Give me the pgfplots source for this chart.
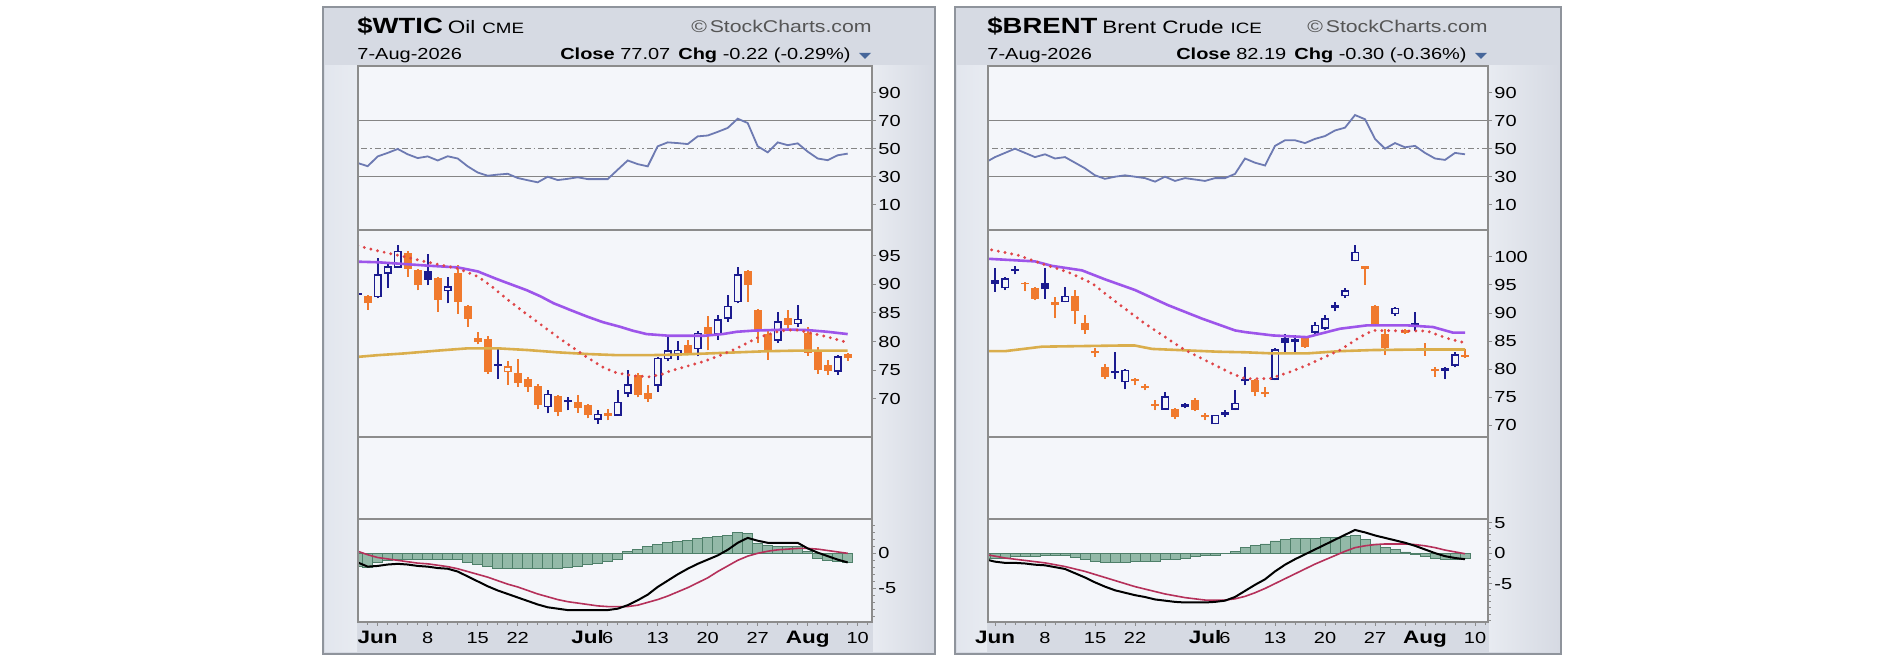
\documentclass[border=0pt]{standalone}
\usepackage{pgfplots}
\pgfplotsset{compat=1.18}
\usepackage{pgfplotstable}
\usepackage{fontspec}
\setmainfont{Liberation Sans}
\newfontfamily\lab[FakeStretch=1.25]{Liberation Sans}

\definecolor{panelbg}{HTML}{D6DAE3}
\definecolor{panelbd}{HTML}{8F949C}
\definecolor{stripA}{HTML}{E2E6EE}
\definecolor{stripB}{HTML}{E8EBF1}
\definecolor{chartbg}{HTML}{F4F6FA}
\definecolor{axisgr}{HTML}{8C8C8C}
\definecolor{refc}{HTML}{858585}
\definecolor{navyc}{HTML}{1B1B8F}
\definecolor{orangec}{HTML}{F07A2E}
\definecolor{purplec}{HTML}{9D55EA}
\definecolor{goldc}{HTML}{DAAE4C}
\definecolor{redc}{HTML}{DF4548}
\definecolor{rsic}{HTML}{6D7AB2}
\definecolor{histf}{HTML}{93B9A8}
\definecolor{histd}{HTML}{4E7F69}
\definecolor{sigc}{HTML}{B5305A}
\definecolor{tric}{HTML}{46669A}
\definecolor{wmc}{HTML}{555555}

\pgfplotsset{
  base/.style={
    scale only axis,
    axis background/.style={fill=chartbg},
    axis line style={draw=axisgr, line width=0.9pt},
    axis on top,
    tick align=outside,
    major tick length=2pt,
    minor tick length=1.4pt,
    every tick/.append style={draw=axisgr, line width=0.5pt},
    xtick=\empty,
    ytick pos=right,
    yticklabel pos=right,
    ticklabel style={font=\lab\fontsize{8}{9}\selectfont, text=black},
    yticklabel style={inner sep=1pt},
  },
  leftp/.style={base, width=257pt, xmin=-1.97, xmax=49.43},
  rightp/.style={base, width=250pt, xmin=-0.7, xmax=49.3},
  refl/.style={draw=refc, line width=0.7pt, forget plot},
  wick/.style={only marks, mark=*, mark size=0pt, mark options={draw=none, fill=none}, forget plot,
     error bars/.cd, y dir=plus, y explicit, error mark=none,
     error bar style={line width=1pt, draw=#1}},
  cbody/.style 2 args={only marks, mark=*, mark size=0pt, mark options={draw=none, fill=none}, forget plot,
     error bars/.cd, y dir=plus, y explicit, error mark=none,
     error bar style={line width=#2, draw=#1}},
  dotted red/.style={redc, line width=1.6pt, line cap=round, dash pattern=on 0pt off 3.4pt},
  macdx/.style={
    xtick={0,5,10,14,21,23,28,33,38,43,48},
    xticklabels={{\fontsize{9}{10}\selectfont\bfseries Jun},8,15,22,{\fontsize{9}{10}\selectfont\bfseries Jul},6,13,20,27,{\fontsize{9}{10}\selectfont\bfseries Aug},10},
    minor xtick={-1,0,...,49},
    xtick pos=bottom,
    xticklabel style={anchor=base, yshift=-9pt},
  },
}

% ---------------- WTIC candles (x = trading day, Jun 1 = 0) ----------------
\pgfplotstableread{
x o h l c
-2 88.5 88.7 88.0 88.2
5 92.4 95.3 89.9 90.8
12 76.0 79.1 73.4 75.7
19 69.7 70.3 67.9 69.3
}\wBF
\pgfplotstableread{
x o h l c
-1 88.0 88.2 85.6 86.7
3 95.5 95.8 91.4 92.8
4 92.5 92.7 89.0 89.9
6 91.1 91.4 85.2 87.3
8 92.0 93.4 84.9 87.0
9 86.2 86.4 82.6 84.0
10 80.6 81.7 79.5 79.9
11 80.4 81.0 74.3 74.7
14 74.4 77.0 72.1 72.7
15 73.4 73.8 71.2 72.0
16 72.2 72.5 68.1 68.9
18 70.4 70.6 66.9 67.7
20 69.4 70.6 67.5 68.3
21 68.9 69.1 66.5 67.1
23 67.4 68.1 66.2 67.0
26 74.1 74.5 70.2 70.6
27 70.9 72.4 69.4 69.9
31 79.4 80.3 77.6 77.9
33 82.6 84.4 78.5 81.3
37 92.3 92.6 87.0 89.9
38 85.5 85.7 79.7 82.0
39 81.4 82.0 76.8 78.5
41 84.1 85.5 82.0 82.9
43 81.5 82.5 77.5 78.0
44 78.5 79.0 74.3 75.0
45 75.8 76.8 74.2 74.8
47 77.8 78.0 76.6 77.07
}\wOF
\pgfplotstableread{
x o h l c
0 87.9 94.6 87.6 91.7
1 92.0 94.0 89.4 93.1
2 93.1 97.0 93.0 95.8
7 88.9 91.4 86.7 89.6
17 68.6 71.5 67.4 70.7
22 66.4 68.0 65.6 67.2
24 67.1 71.5 67.0 69.3
25 71.0 75.0 70.2 72.4
28 72.4 77.3 71.2 77.0
29 77.05 80.8 76.5 78.3
30 77.9 80.0 76.7 78.4
32 78.8 81.9 77.4 81.4
34 81.4 84.7 80.3 83.8
35 84.1 88.2 83.5 86.1
36 87.0 93.1 86.7 91.7
40 80.3 85.2 79.8 83.4
42 83.2 86.4 82.5 83.9
46 74.8 77.6 74.2 77.29
}\wBH
\pgfplotstableread{
x o h l c
13 74.7 76.6 72.4 75.5
}\wOH

% ---------------- BRENT candles ----------------
\pgfplotstableread{
x o h l c
0 95.8 98.0 93.8 95.2
2 97.9 98.4 96.9 97.5
5 95.4 98.0 92.5 94.2
12 79.7 83.0 78.3 79.3
19 73.7 73.9 73.0 73.2
23 72.3 72.7 71.5 71.9
25 78.3 80.4 77.1 77.8
29 85.5 86.3 83.1 84.7
30 85.4 86.0 82.8 84.8
34 91.4 91.9 90.3 90.9
42 88.3 90.1 86.8 87.8
45 80.2 80.3 78.2 79.7
}\bBF
\pgfplotstableread{
x o h l c
-1 91.3 91.5 90.8 91.0
3 95.4 95.5 93.9 95.1
4 94.4 94.6 92.3 92.5
6 92.0 92.9 89.1 91.4
8 93.0 94.1 88.1 90.3
9 88.3 89.7 86.3 86.9
10 83.2 83.7 82.2 82.8
11 80.4 81.0 78.2 78.6
14 78.3 78.4 77.1 77.8
15 77.0 77.4 76.2 76.6
16 73.7 74.5 72.7 73.4
18 72.9 73.1 71.1 71.5
20 74.5 74.8 72.5 72.7
21 71.9 72.2 70.9 71.4
26 78.0 78.3 75.2 75.9
27 76.0 76.8 75.0 75.6
31 85.5 85.7 83.8 84.0
37 98.3 98.4 95.0 97.9
38 91.2 91.4 87.8 88.1
39 86.3 87.2 82.5 83.8
41 86.9 87.2 86.3 86.5
43 83.8 84.6 82.4 83.3
44 80.0 80.4 78.6 79.6
47 82.6 83.5 82.0 82.19
}\bOF
\pgfplotstableread{
x o h l c
1 94.5 96.4 94.1 96.1
7 92.1 94.7 91.9 92.9
13 77.8 80.0 76.4 79.8
17 72.9 75.9 72.8 75.0
22 70.3 71.8 70.2 71.7
24 72.9 76.2 72.7 73.9
28 78.2 83.8 78.0 83.4
32 86.6 88.4 86.0 87.8
33 87.3 89.7 86.9 88.9
35 93.1 94.5 92.7 93.9
36 99.4 102.2 99.2 100.8
40 89.9 91.1 89.5 90.8
46 80.7 83.1 80.3 82.49
}\bBH

\begin{document}
\begin{tikzpicture}
\path[use as bounding box] (0,0) rectangle (943pt,331pt);
\fill[white] (0,0) rectangle (943pt,331pt);
\begin{scope}[x=0.5pt,y=-0.5pt,shift={(0pt,331pt)}]
  % panels
  \fill[panelbg] (323,7) rectangle (935,654);
  \fill[panelbg] (955,7) rectangle (1561,654);
  \shade[left color=stripA, right color=stripB] (325,66) rectangle (357,652);
  \shade[left color=stripB, right color=panelbg] (873,66) rectangle (933,652);
  \shade[left color=stripA, right color=stripB] (957,66) rectangle (987,652);
  \shade[left color=stripB, right color=panelbg] (1489,66) rectangle (1559,652);
  \draw[panelbd, line width=1pt] (323,7) rectangle (935,654);
  \draw[panelbd, line width=1pt] (955,7) rectangle (1561,654);
  % left header
  \node[anchor=base west, inner sep=0] at (357,34) {\lab\fontsize{11}{12}\selectfont\bfseries \$WTIC\hspace{2.5pt}{\mdseries\fontsize{9}{10}\selectfont Oil}\hspace{3.5pt}{\mdseries\fontsize{7.5}{9}\selectfont CME}};
  \node[anchor=base east, inner sep=0, text=wmc] at (872,33) {\lab\fontsize{8.5}{10}\selectfont\textcopyright\,StockCharts.com};
  \node[anchor=base west, inner sep=0] at (357,60) {\lab\fontsize{8}{9}\selectfont 7-Aug-2026};
  \node[anchor=base east, inner sep=0] at (851,60) {\lab\fontsize{8}{9}\selectfont\textbf{Close} 77.07\hspace{4pt}\textbf{Chg} -0.22 (-0.29\%)};
  \fill[tric] (859,53) -- (871,53) -- (865,59) -- cycle;
  % right header
  \node[anchor=base west, inner sep=0] at (987,34) {\lab\fontsize{11}{12}\selectfont\bfseries \$BRENT\hspace{2.5pt}{\mdseries\fontsize{9}{10}\selectfont Brent Crude}\hspace{3.5pt}{\mdseries\fontsize{7.5}{9}\selectfont ICE}};
  \node[anchor=base east, inner sep=0, text=wmc] at (1488,33) {\lab\fontsize{8.5}{10}\selectfont\textcopyright\,StockCharts.com};
  \node[anchor=base west, inner sep=0] at (987,60) {\lab\fontsize{8}{9}\selectfont 7-Aug-2026};
  \node[anchor=base east, inner sep=0] at (1467,60) {\lab\fontsize{8}{9}\selectfont\textbf{Close} 82.19\hspace{4pt}\textbf{Chg} -0.30 (-0.36\%)};
  \fill[tric] (1475,53) -- (1487,53) -- (1481,59) -- cycle;
\end{scope}

% ================= LEFT : WTIC =================
\begin{axis}[leftp, at={(179pt,216pt)}, anchor=south west, height=82pt,
  ymin=-8, ymax=109, ytick={10,30,50,70,90}, yticklabels={10,30,50,70,90}]
  \addplot[refl] coordinates {(-3,70) (51,70)};
  \addplot[refl] coordinates {(-3,30) (51,30)};
  \addplot[refl, dash pattern=on 3pt off 1.5pt on 0.8pt off 1.5pt] coordinates {(-3,50) (51,50)};
  \addplot[rsic, line width=0.9pt] coordinates {
    (-2,39.8) (-1,37.5) (0,44.5) (1,47) (2,49.8) (3,46) (4,43.3) (5,44.5) (6,41.6) (7,44.6)
    (8,43) (9,37.4) (10,33) (11,30.7) (12,31.5) (13,32.1) (14,29.1) (15,27.5) (16,26.0) (17,30)
    (18,27.6) (19,28.5) (20,29.6) (21,28.3) (22,28.3) (23,28.3) (24,35) (25,41.6) (26,39) (27,37.4)
    (28,51.7) (29,54.5) (30,54) (31,53.3) (32,58.8) (33,59.4) (34,62) (35,64.8) (36,71.4) (37,68.3)
    (38,51.7) (39,47.4) (40,54.5) (41,52.5) (42,53.8) (43,47.9) (44,43.0) (45,41.8) (46,45.3) (47,46.5)};
\end{axis}

\begin{axis}[leftp, at={(179pt,112.5pt)}, anchor=south west, height=103.5pt,
  ymin=63.25, ymax=99.56, ytick={70,75,80,85,90,95}, yticklabels={70,75,80,85,90,95}]
  % orange filled
  \addplot[wick=orangec] table[x=x, y=l, y error plus expr=\thisrow{h}-\thisrow{l}] {\wOF};
  \addplot[cbody={orangec}{4pt}] table[x=x, y=c, y error plus expr=\thisrow{o}-\thisrow{c}] {\wOF};
  % navy filled
  \addplot[wick=navyc] table[x=x, y=l, y error plus expr=\thisrow{h}-\thisrow{l}] {\wBF};
  \addplot[cbody={navyc}{4pt}] table[x=x, y=c, y error plus expr=\thisrow{o}-\thisrow{c}] {\wBF};
  % blue hollow
  \addplot[wick=navyc] table[x=x, y=l, y error plus expr=\thisrow{h}-\thisrow{l}] {\wBH};
  \addplot[cbody={navyc}{4pt}] table[x=x, y expr=\thisrow{o}-0.13, y error plus expr=\thisrow{c}-\thisrow{o}+0.26] {\wBH};
  \addplot[cbody={chartbg}{2.5pt}] table[x=x, y expr=\thisrow{o}+0.13, y error plus expr=\thisrow{c}-\thisrow{o}-0.26] {\wBH};
  % orange hollow
  \addplot[wick=orangec] table[x=x, y=l, y error plus expr=\thisrow{h}-\thisrow{l}] {\wOH};
  \addplot[cbody={orangec}{4pt}] table[x=x, y expr=\thisrow{o}-0.13, y error plus expr=\thisrow{c}-\thisrow{o}+0.26] {\wOH};
  \addplot[cbody={chartbg}{2.5pt}] table[x=x, y expr=\thisrow{o}+0.13, y error plus expr=\thisrow{c}-\thisrow{o}-0.26] {\wOH};
  % moving averages
  \addplot[goldc, line width=1.3pt] coordinates {
    (-2,77.3) (0,77.6) (2.6,77.9) (6,78.4) (9,78.8) (12,78.8) (15,78.5) (18,78.1) (21,77.8)
    (24,77.6) (27,77.6) (30,77.7) (33,77.9) (36,78.1) (39,78.3) (42,78.4) (45,78.4) (47,78.4)};
  \addplot[purplec, line width=1.3pt] coordinates {
    (-2,94.0) (0,93.9) (2.6,93.6) (5,93.3) (8,93.0) (10,92.3) (11.7,91.1) (12.6,90.5) (14.9,89.0)
    (16.3,87.9) (17.6,86.7) (19.3,85.5) (20.9,84.4) (22.5,83.4) (24.2,82.6) (25.5,81.9) (26.9,81.3)
    (29.2,81.0) (32.6,81.0) (34.5,81.3) (35.9,81.7) (37.5,81.9) (39.2,82.0) (41,82.1) (43,82.0)
    (45,81.7) (47,81.3)};
  \addplot[dotted red] coordinates {
    (-2,96.8) (0,95.9) (2.6,94.9) (5,93.9) (8,92.8) (10,91.4) (11.3,89.8) (12.6,87.9) (13.9,86.1)
    (15.2,84.4) (16.6,82.6) (17.9,80.9) (19.3,79.2) (20.6,77.6) (22.6,75.4) (23.9,74.5) (25.5,74.0)
    (27.2,73.8) (28.5,74.3) (29.2,74.8) (31,75.7) (32.6,76.5) (34.3,77.6) (35.9,78.8) (37.9,80.6)
    (39.9,81.7) (41,82.0) (42,82.0) (43,81.6) (44,81.2) (45,80.8) (46,80.3) (47,79.8)};
\end{axis}

\begin{axis}[leftp, at={(179pt,71.5pt)}, anchor=south west, height=41pt,
  ymin=0, ymax=1, ytick=\empty]
\end{axis}

\begin{axis}[leftp, macdx, at={(179pt,20pt)}, anchor=south west, height=51.5pt,
  ymin=-9.8, ymax=4.9, ytick={-5,0}, yticklabels={-5,0}, minor ytick={-9,-8,...,4}]
  \addplot[ybar, bar width=5pt, fill=histf, draw=histd, line width=0.4pt, forget plot] coordinates {
    (-2,-1.9) (-1,-2.0) (0,-1.3) (1,-1.0) (2,-0.8) (3,-0.8) (4,-0.8) (5,-0.8) (6,-0.8) (7,-0.8)
    (8,-0.9) (9,-1.3) (10,-1.6) (11,-1.9) (12,-2.1) (13,-2.2) (14,-2.2) (15,-2.2) (16,-2.2) (17,-2.2)
    (18,-2.1) (19,-2.0) (20,-1.9) (21,-1.6) (22,-1.4) (23,-1.2) (24,-0.9) (25,0.3) (26,0.5) (27,1.0)
    (28,1.3) (29,1.5) (30,1.7) (31,1.9) (32,2.1) (33,2.3) (34,2.4) (35,2.6) (36,3.0) (37,2.8)
    (38,1.4) (39,1.1) (40,1.0) (41,1.0) (42,1.0) (43,0.3) (44,-0.7) (45,-1.0) (46,-1.2) (47,-1.3)};
  \addplot[sigc, line width=0.8pt] coordinates {
    (-2,0.3) (-1,-0.2) (0,-0.6) (1,-0.8) (2,-1.0) (3,-1.2) (4,-1.4) (5,-1.5) (6,-1.7) (7,-1.9)
    (8,-2.2) (9,-2.6) (10,-3.0) (11,-3.4) (12,-3.9) (13,-4.4) (14,-4.8) (15,-5.3) (16,-5.8) (17,-6.2)
    (18,-6.6) (19,-6.9) (20,-7.1) (21,-7.3) (22,-7.5) (23,-7.6) (24,-7.6) (25,-7.6) (26,-7.4) (27,-7.0)
    (28,-6.6) (29,-6.1) (30,-5.5) (31,-4.9) (32,-4.2) (33,-3.5) (34,-2.6) (35,-1.8) (36,-1.0) (37,-0.4)
    (38,0.0) (39,0.3) (40,0.5) (41,0.6) (42,0.7) (43,0.7) (44,0.6) (45,0.4) (46,0.2) (47,0.0)};
  \addplot[black, line width=1pt] coordinates {
    (-2,-1.3) (-1,-1.9) (0,-1.8) (1,-1.6) (2,-1.5) (3,-1.6) (4,-1.8) (5,-1.9) (6,-2.1) (7,-2.2)
    (8,-2.6) (9,-3.3) (10,-4.0) (11,-4.7) (12,-5.3) (13,-5.8) (14,-6.3) (15,-6.8) (16,-7.3) (17,-7.7)
    (18,-7.9) (19,-8.1) (20,-8.1) (21,-8.1) (22,-8.1) (23,-8.1) (24,-7.9) (25,-7.4) (26,-6.7) (27,-5.9)
    (28,-4.8) (29,-3.9) (30,-3.0) (31,-2.2) (32,-1.5) (33,-0.9) (34,-0.3) (35,0.5) (36,1.5) (37,2.2)
    (38,1.8) (39,1.5) (40,1.5) (41,1.5) (42,1.5) (43,0.7) (44,0.1) (45,-0.4) (46,-0.9) (47,-1.3)};
\end{axis}

% ================= RIGHT : BRENT =================
\begin{axis}[rightp, at={(494pt,216pt)}, anchor=south west, height=82pt,
  ymin=-8, ymax=109, ytick={10,30,50,70,90}, yticklabels={10,30,50,70,90}]
  \addplot[refl] coordinates {(-3,70) (51,70)};
  \addplot[refl] coordinates {(-3,30) (51,30)};
  \addplot[refl, dash pattern=on 3pt off 1.5pt on 0.8pt off 1.5pt] coordinates {(-3,50) (51,50)};
  \addplot[rsic, line width=0.9pt] coordinates {
    (-1,40) (0,44) (1,47) (2,50) (3,47) (4,44) (5,46) (6,43) (7,44) (8,40)
    (9,36) (10,31) (11,28.5) (12,30) (13,31) (14,30) (15,29) (16,26.5) (17,30) (18,27)
    (19,29) (20,28) (21,27) (22,29) (23,29) (24,32) (25,43) (26,40) (27,38) (28,52)
    (29,56) (30,56) (31,54) (32,57) (33,59) (34,63) (35,65) (36,74) (37,71) (38,57)
    (39,50) (40,54) (41,51) (42,52) (43,47) (44,43) (45,42) (46,47) (47,46)};
\end{axis}

\begin{axis}[rightp, at={(494pt,112.5pt)}, anchor=south west, height=103.5pt,
  ymin=67.9, ymax=104.8, ytick={70,75,80,85,90,95,100}, yticklabels={70,75,80,85,90,95,100}]
  \addplot[wick=orangec] table[x=x, y=l, y error plus expr=\thisrow{h}-\thisrow{l}] {\bOF};
  \addplot[cbody={orangec}{4pt}] table[x=x, y=c, y error plus expr=\thisrow{o}-\thisrow{c}] {\bOF};
  \addplot[wick=navyc] table[x=x, y=l, y error plus expr=\thisrow{h}-\thisrow{l}] {\bBF};
  \addplot[cbody={navyc}{4pt}] table[x=x, y=c, y error plus expr=\thisrow{o}-\thisrow{c}] {\bBF};
  \addplot[wick=navyc] table[x=x, y=l, y error plus expr=\thisrow{h}-\thisrow{l}] {\bBH};
  \addplot[cbody={navyc}{4pt}] table[x=x, y expr=\thisrow{o}-0.13, y error plus expr=\thisrow{c}-\thisrow{o}+0.26] {\bBH};
  \addplot[cbody={chartbg}{2.5pt}] table[x=x, y expr=\thisrow{o}+0.13, y error plus expr=\thisrow{c}-\thisrow{o}-0.26] {\bBH};
  \addplot[goldc, line width=1.3pt] coordinates {
    (-1,83.2) (1,83.2) (4.7,84.0) (12.3,84.2) (14,84.2) (15.7,83.6) (22.3,83.1) (25,83.0)
    (27.8,82.8) (31.2,82.8) (34.5,83.2) (37.8,83.4) (42.8,83.5) (47,83.5)};
  \addplot[purplec, line width=1.3pt] coordinates {
    (-1,99.7) (4,99.2) (5.7,98.4) (8.7,97.6) (11,96.0) (14,94.1) (17.3,91.4) (20.7,89.0)
    (24,86.9) (25,86.6) (27.8,86.0) (31.2,85.7) (34.5,87.2) (37.2,87.8) (41.2,87.8) (43.8,87.5)
    (45.8,86.5) (47,86.5)};
  \addplot[dotted red] coordinates {
    (-1,101.5) (2.3,100.3) (5,98.6) (7.3,97.3) (9.7,95.3) (12.3,91.7) (15,88.1) (17.7,84.9)
    (19,83.4) (21,81.6) (23.7,79.2) (25,78.3) (27.5,78.3) (29.5,79.5) (31.2,80.7) (34.5,83.4)
    (36.5,85.7) (37.8,86.9) (41.2,86.8) (43.2,86.8) (45.2,85.5) (47,84.7)};
\end{axis}

\begin{axis}[rightp, at={(494pt,71.5pt)}, anchor=south west, height=41pt,
  ymin=0, ymax=1, ytick=\empty]
\end{axis}

\begin{axis}[rightp, macdx, at={(494pt,20pt)}, anchor=south west, height=51.5pt,
  ymin=-11.3, ymax=5.6, ytick={-5,0,5}, yticklabels={-5,0,5}, minor ytick={-11,-10,...,5}]
  \addplot[ybar, bar width=5pt, fill=histf, draw=histd, line width=0.4pt, forget plot] coordinates {
    (-1,-0.8) (0,-0.9) (1,-0.8) (2,-0.6) (3,-0.5) (4,-0.5) (5,-0.4) (6,-0.4) (7,-0.4) (8,-0.7)
    (9,-1.0) (10,-1.3) (11,-1.5) (12,-1.6) (13,-1.5) (14,-1.4) (15,-1.3) (16,-1.3) (17,-1.1) (18,-1.0)
    (19,-0.8) (20,-0.6) (21,-0.4) (22,-0.3) (23,-0.1) (24,0.3) (25,0.9) (26,1.3) (27,1.5) (28,2.0)
    (29,2.3) (30,2.4) (31,2.4) (32,2.4) (33,2.5) (34,2.6) (35,2.7) (36,2.9) (37,2.2) (38,1.5)
    (39,1.0) (40,0.6) (41,0.2) (42,-0.2) (43,-0.6) (44,-0.9) (45,-1.0) (46,-1.0) (47,-0.9)};
  \addplot[sigc, line width=0.8pt] coordinates {
    (-1,-0.2) (0,-0.5) (1,-0.8) (2,-1.0) (3,-1.2) (4,-1.4) (5,-1.6) (6,-1.9) (7,-2.2) (8,-2.6)
    (9,-3.0) (10,-3.5) (11,-4.0) (12,-4.5) (13,-5.0) (14,-5.5) (15,-5.9) (16,-6.3) (17,-6.7) (18,-7.0)
    (19,-7.3) (20,-7.5) (21,-7.7) (22,-7.7) (23,-7.7) (24,-7.5) (25,-7.1) (26,-6.5) (27,-5.8) (28,-5.0)
    (29,-4.2) (30,-3.4) (31,-2.6) (32,-1.8) (33,-1.1) (34,-0.4) (35,0.3) (36,0.9) (37,1.2) (38,1.4)
    (39,1.5) (40,1.5) (41,1.5) (42,1.4) (43,1.2) (44,0.9) (45,0.5) (46,0.2) (47,-0.1)};
  \addplot[black, line width=1pt] coordinates {
    (-1,-1.0) (0,-1.4) (1,-1.6) (2,-1.6) (3,-1.7) (4,-1.9) (5,-2.0) (6,-2.3) (7,-2.6) (8,-3.3)
    (9,-4.0) (10,-4.8) (11,-5.5) (12,-6.1) (13,-6.5) (14,-6.9) (15,-7.2) (16,-7.6) (17,-7.8) (18,-8.0)
    (19,-8.1) (20,-8.1) (21,-8.1) (22,-8.0) (23,-7.8) (24,-7.2) (25,-6.2) (26,-5.2) (27,-4.3) (28,-3.0)
    (29,-1.9) (30,-1.0) (31,-0.2) (32,0.6) (33,1.4) (34,2.2) (35,3.0) (36,3.8) (37,3.4) (38,2.9)
    (39,2.5) (40,2.1) (41,1.7) (42,1.2) (43,0.6) (44,0.0) (45,-0.5) (46,-0.8) (47,-1.0)};
\end{axis}
\end{tikzpicture}
\end{document}
